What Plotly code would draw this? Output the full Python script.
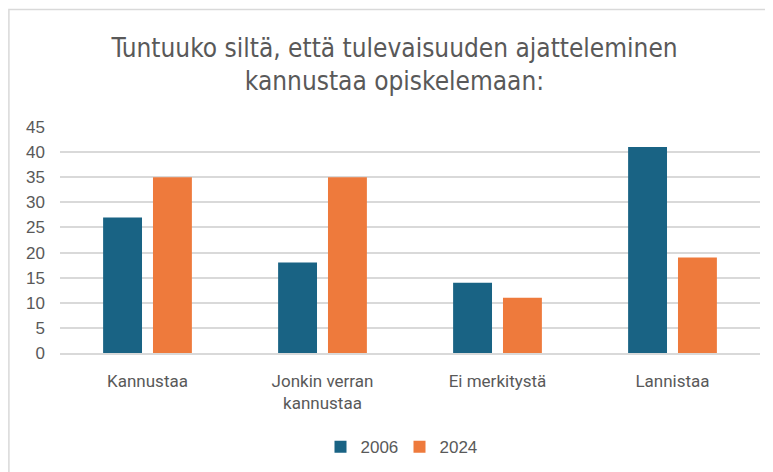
import plotly.graph_objects as go

# ----------------------------
# Data
# ----------------------------
categories = ['Kannustaa', 'Jonkin verran<br>kannustaa', 'Ei merkitystä', 'Lannistaa']
values_2006 = [27, 18, 14, 41]
values_2024 = [35, 35, 11, 19]
y_ticks = [0, 5, 10, 15, 20, 25, 30, 35, 40, 45]

# ----------------------------
# Plot
# ----------------------------
fig = go.Figure()

fig.add_trace(go.Bar(
    x=categories, y=values_2006, name='2006',
    marker=dict(color='#196384', line=dict(width=0))
))
fig.add_trace(go.Bar(
    x=categories, y=values_2024, name='2024',
    marker=dict(color='#EE7A3C', line=dict(width=0))
))

# light frame around the chart area (page has an 8px body margin)
fig.add_shape(
    type='rect', xref='paper', yref='paper',
    x0=-0.073, x1=1.05, y0=-0.7, y1=1.52,
    line=dict(color='#d9d9d9', width=1.5), fillcolor='rgba(0,0,0,0)',
    layer='below'
)

fig.update_layout(
    width=773, height=472,
    margin=dict(l=52, r=21, t=119, b=127),
    plot_bgcolor='white', paper_bgcolor='white',
    title=dict(
        text='Tuntuuko siltä, että tulevaisuuden ajatteleminen<br>kannustaa opiskelemaan:',
        x=0.5, xanchor='center', y=0.897, yanchor='top',
        font=dict(family='DejaVu Sans Condensed, Liberation Sans Narrow, Roboto', size=26, color='#595959')
    ),
    barmode='group', bargap=0.43, bargroupgap=0.22,
    xaxis=dict(
        showgrid=False, showline=True, linecolor='#d9d9d9', linewidth=1.5,
        tickfont=dict(family='Roboto', size=17, color='#595959'),
        ticklabelstandoff=12
    ),
    yaxis=dict(
        range=[0, 45], tickvals=y_ticks,
        showgrid=True, gridcolor='#d9d9d9', gridwidth=1.5,
        zeroline=False,
        tickfont=dict(family='Liberation Sans', size=17, color='#595959'),
        ticklabelstandoff=14
    ),
    showlegend=True,
    legend=dict(
        orientation='h', x=0.485, xanchor='center', y=-0.417, yanchor='middle',
        font=dict(family='Liberation Sans', size=17, color='#595959'),
        itemwidth=30, entrywidth=34
    )
)

fig.write_html("out.html")
